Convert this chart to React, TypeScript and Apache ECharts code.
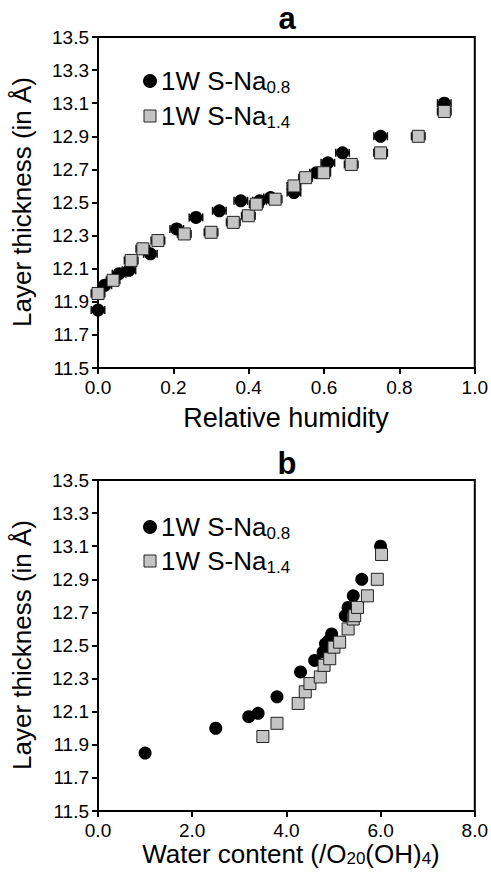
import React, { useEffect, useRef } from "react";
import * as echarts from "echarts";

// Panel a: layer thickness vs relative humidity
const rhNa08 = [0, 0.018, 0.056, 0.082, 0.139, 0.209, 0.26, 0.322, 0.379, 0.429, 0.458, 0.52, 0.58, 0.61, 0.649, 0.75, 0.919];
const dNa08a = [11.85, 12.0, 12.07, 12.09, 12.19, 12.34, 12.41, 12.45, 12.51, 12.51, 12.53, 12.56, 12.68, 12.74, 12.8, 12.9, 13.1];
const rhNa14 = [0, 0.04, 0.088, 0.119, 0.159, 0.229, 0.3, 0.359, 0.399, 0.42, 0.47, 0.52, 0.551, 0.599, 0.672, 0.75, 0.85, 0.919];
const dNa14a = [11.95, 12.03, 12.15, 12.22, 12.27, 12.31, 12.32, 12.38, 12.42, 12.49, 12.52, 12.6, 12.65, 12.68, 12.73, 12.8, 12.9, 13.05];
const rhError = 0.018;

// Panel b: layer thickness vs water content
const wNa08 = [1.0, 2.5, 3.2, 3.4, 3.8, 4.3, 4.6, 4.78, 4.83, 4.9, 4.96, 5.25, 5.31, 5.42, 5.6, 6.0];
const dNa08b = [11.85, 12.0, 12.07, 12.09, 12.19, 12.34, 12.41, 12.46, 12.51, 12.53, 12.57, 12.68, 12.73, 12.8, 12.9, 13.1];
const wNa14 = [3.5, 3.8, 4.25, 4.4, 4.5, 4.72, 4.8, 4.92, 5.01, 5.13, 5.31, 5.42, 5.45, 5.51, 5.72, 5.93, 6.02];
const dNa14b = [11.95, 12.03, 12.15, 12.22, 12.27, 12.31, 12.38, 12.42, 12.49, 12.52, 12.6, 12.66, 12.68, 12.73, 12.8, 12.9, 13.05];

const seriesNames = ["1W S-Na0.8", "1W S-Na1.4"];
const legendMain = "1W S-Na";
const legendSubs = ["0.8", "1.4"];
const yName = "Layer thickness (in Å)";
const xNameA = "Relative humidity";
const yRange = [11.5, 13.5, 0.2];
const xRangeA = [0, 1, 0.2];
const xRangeB = [0, 8, 2];

const FONT = "'Liberation Sans', Arial, Helvetica, sans-serif";

export default function App() {
  const ref = useRef<HTMLDivElement>(null);
  useEffect(() => {
    if (!ref.current) return;
    const chart = echarts.init(ref.current, null, { renderer: "svg" });

    const axisCommon = {
      axisLine: { show: true, onZero: false, lineStyle: { color: "#000", width: 2 } },
      axisTick: { show: true, inside: false, length: 6, lineStyle: { color: "#000", width: 2 } },
      splitLine: { show: false },
      axisLabel: { color: "#000", fontSize: 19, fontFamily: FONT, margin: 9 },
    };
    const xAxis = (idx: number, r: number[]) => ({
      type: "value",
      gridIndex: idx,
      min: r[0],
      max: r[1],
      interval: r[2],
      ...axisCommon,
      axisLabel: { ...axisCommon.axisLabel, margin: 10, formatter: (v: number) => v.toFixed(1) },
    });
    const yAxis = (idx: number) => ({
      type: "value",
      gridIndex: idx,
      min: yRange[0],
      max: yRange[1],
      interval: yRange[2],
      ...axisCommon,
      axisLabel: { ...axisCommon.axisLabel, formatter: (v: number) => v.toFixed(1) },
    });

    const errSeries = (xs: number[], ys: number[]) => ({
      type: "custom",
      xAxisIndex: 0,
      yAxisIndex: 0,
      silent: true,
      z: 1,
      data: xs.map((x, i) => [x, ys[i]]),
      renderItem: (params: any, api: any) => {
        const x = api.value(0);
        const y = api.value(1);
        const p1 = api.coord([x - rhError, y]);
        const p2 = api.coord([x + rhError, y]);
        const c = 4;
        const st = { stroke: "#111", lineWidth: 1.5 };
        return {
          type: "group",
          children: [
            { type: "line", shape: { x1: p1[0], y1: p1[1], x2: p2[0], y2: p2[1] }, style: st },
            { type: "line", shape: { x1: p1[0], y1: p1[1] - c, x2: p1[0], y2: p1[1] + c }, style: st },
            { type: "line", shape: { x1: p2[0], y1: p2[1] - c, x2: p2[0], y2: p2[1] + c }, style: st },
          ],
        };
      },
    });

    const circleStyle = { color: "#000", opacity: 1 };
    const squareStyle = { color: "#c4c4c4", borderColor: "#222", borderWidth: 1, opacity: 1 };

    const legend = (cy1: number, cy2: number) => [
      { type: "circle", shape: { cx: 150, cy: cy1, r: 7 }, style: { fill: "#000" } },
      { type: "rect", shape: { x: 144, y: cy2 - 6, width: 12, height: 12 }, style: { fill: "#c4c4c4", stroke: "#222", lineWidth: 1 } },
      ...[cy1, cy2].map((cy, i) => ({
        type: "text",
        x: 161,
        y: cy,
        style: {
          text: `{m|${legendMain}}{s|${legendSubs[i]}}`,
          verticalAlign: "middle",
          align: "left",
          fill: "#000",
          rich: {
            m: { fontSize: 26, fontFamily: FONT, lineHeight: 30, fill: "#000" },
            s: { fontSize: 17, fontFamily: FONT, lineHeight: 8, verticalAlign: "bottom", fill: "#000" },
          },
        },
      })),
    ];

    const yNameText = (cy: number) => ({
      type: "text",
      x: 22,
      y: cy,
      rotation: Math.PI / 2,
      style: { text: yName, fontSize: 26, fontFamily: FONT, fill: "#000", align: "center", verticalAlign: "middle" },
    });

    chart.setOption({
      animation: false,
      backgroundColor: "#fff",
      grid: [
        { left: 98, top: 37, width: 379, height: 331, show: true, borderColor: "#000", borderWidth: 2, backgroundColor: "transparent" },
        { left: 98, top: 480, width: 379, height: 331, show: true, borderColor: "#000", borderWidth: 2, backgroundColor: "transparent" },
      ],
      xAxis: [xAxis(0, xRangeA), xAxis(1, xRangeB)],
      yAxis: [yAxis(0), yAxis(1)],
      series: [
        errSeries(rhNa08, dNa08a),
        errSeries(rhNa14, dNa14a),
        {
          name: seriesNames[0], type: "scatter", xAxisIndex: 0, yAxisIndex: 0, z: 3,
          symbol: "circle", symbolSize: 13, itemStyle: circleStyle,
          data: rhNa08.map((x, i) => [x, dNa08a[i]]),
        },
        {
          name: seriesNames[1], type: "scatter", xAxisIndex: 0, yAxisIndex: 0, z: 4,
          symbol: "rect", symbolSize: 12, itemStyle: squareStyle,
          data: rhNa14.map((x, i) => [x, dNa14a[i]]),
        },
        {
          name: seriesNames[0], type: "scatter", xAxisIndex: 1, yAxisIndex: 1, z: 3,
          symbol: "circle", symbolSize: 13, itemStyle: circleStyle,
          data: wNa08.map((x, i) => [x, dNa08b[i]]),
        },
        {
          name: seriesNames[1], type: "scatter", xAxisIndex: 1, yAxisIndex: 1, z: 4,
          symbol: "rect", symbolSize: 12, itemStyle: squareStyle,
          data: wNa14.map((x, i) => [x, dNa14b[i]]),
        },
      ],
      graphic: [
        { type: "text", x: 287, y: 18, style: { text: "a", fontSize: 31, fontWeight: "bold", fontFamily: FONT, fill: "#000", align: "center", verticalAlign: "middle" } },
        { type: "text", x: 287, y: 463, style: { text: "b", fontSize: 31, fontWeight: "bold", fontFamily: FONT, fill: "#000", align: "center", verticalAlign: "middle" } },
        yNameText(202),
        yNameText(645),
        { type: "text", x: 286, y: 418, style: { text: xNameA, fontSize: 27, fontFamily: FONT, fill: "#000", align: "center", verticalAlign: "middle" } },
        {
          type: "text", x: 291, y: 854,
          style: {
            text: "{m|Water content (/O}{s|20}{m|(OH)}{s|4}{m|)}",
            align: "center", verticalAlign: "middle", fill: "#000",
            rich: {
              m: { fontSize: 26, fontFamily: FONT, lineHeight: 26, fill: "#000" },
              s: { fontSize: 17, fontFamily: FONT, lineHeight: 8, verticalAlign: "bottom", fill: "#000" },
            },
          },
        },
        ...legend(81, 116),
        ...legend(527, 561),
      ],
    });
    return () => chart.dispose();
  }, []);
  return <div ref={ref} style={{ position: "fixed", left: 0, top: 0, width: 491, height: 873 }} />;
}
